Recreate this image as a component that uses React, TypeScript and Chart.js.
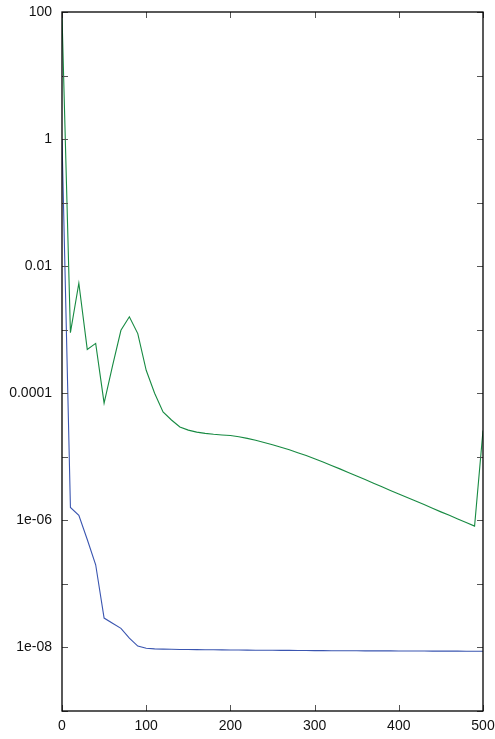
import React, { useEffect, useRef } from "react";
import { Chart, registerables } from "chart.js";

Chart.register(...registerables);

const X_VALUES = [
  0, 10, 20, 30, 40, 50, 60, 70, 80, 90, 100, 110, 120, 130, 140, 150, 160, 170, 180, 190, 200,
  210, 220, 230, 240, 250, 260, 270, 280, 290, 300, 310, 320, 330, 340, 350, 360, 370, 380, 390,
  400, 410, 420, 430, 440, 450, 460, 470, 480, 490, 500,
];

const GREEN_VALUES = [
  90, 9e-4, 5.4e-3, 4.9e-4, 6.1e-4, 7.0e-5, 2.7e-4, 9.8e-4, 1.6e-3, 8.7e-4, 2.3e-4, 1.0e-4,
  5.1e-5, 3.8e-5, 2.95e-5, 2.63e-5, 2.45e-5, 2.34e-5, 2.26e-5, 2.21e-5, 2.16e-5,
  2.065e-5, 1.95e-5, 1.82e-5, 1.68e-5, 1.55e-5, 1.41e-5, 1.29e-5, 1.16e-5, 1.05e-5, 9.33e-6,
  8.32e-6, 7.33e-6, 6.46e-6, 5.68e-6, 4.98e-6, 4.38e-6, 3.85e-6, 3.37e-6, 2.96e-6, 2.61e-6,
  2.29e-6, 2.01e-6, 1.77e-6, 1.55e-6, 1.36e-6, 1.2e-6, 1.05e-6, 9.25e-7, 8.13e-7, 2.6e-5,
];

const BLUE_VALUES = [
  1, 1.6e-6, 1.2e-6, 5.0e-7, 2.0e-7, 2.9e-8, 2.4e-8, 2.0e-8, 1.4e-8, 1.05e-8, 9.7e-9, 9.5e-9,
  9.4e-9, 9.35e-9, 9.3e-9, 9.27e-9, 9.24e-9, 9.21e-9, 9.18e-9, 9.15e-9, 9.12e-9,
  9.1e-9, 9.08e-9, 9.06e-9, 9.04e-9, 9.02e-9, 9.0e-9, 8.98e-9, 8.96e-9, 8.94e-9, 8.92e-9,
  8.9e-9, 8.89e-9, 8.88e-9, 8.87e-9, 8.86e-9, 8.85e-9, 8.84e-9, 8.83e-9, 8.82e-9, 8.81e-9,
  8.8e-9, 8.79e-9, 8.78e-9, 8.77e-9, 8.76e-9, 8.75e-9, 8.74e-9, 8.73e-9, 8.72e-9, 8.7e-9,
];

const X_TICKS = [0, 100, 200, 300, 400, 500];
const X_TICK_LABELS = ["0", "100", "200", "300", "400", "500"];

const Y_TICKS = [100, 10, 1, 0.1, 0.01, 1e-3, 1e-4, 1e-5, 1e-6, 1e-7, 1e-8, 1e-9];
const Y_TICK_LABELS = ["100", "", "1", "", "0.01", "", "0.0001", "", "1e-06", "", "1e-08", ""];

const GREEN_COLOR = "#178a42";
const BLUE_COLOR = "#3a55b0";
const FONT = "'Liberation Sans', Arial, Helvetica, sans-serif";

const framePlugin = {
  id: "gnuplotFrame",
  afterDraw(chart: any) {
    const { ctx, chartArea } = chart;
    const xs = chart.scales.x;
    const ys = chart.scales.y;
    const { left, right, top, bottom } = chartArea;
    ctx.save();
    const tick = 6;
    ctx.strokeStyle = "#555";
    ctx.lineWidth = 1;
    ctx.beginPath();
    X_TICKS.forEach((v) => {
      const px = Math.round(xs.getPixelForValue(v)) + 0.5;
      ctx.moveTo(px, bottom);
      ctx.lineTo(px, bottom - tick);
      ctx.moveTo(px, top);
      ctx.lineTo(px, top + tick);
    });
    Y_TICKS.forEach((v) => {
      const py = Math.round(ys.getPixelForValue(v)) + 0.5;
      ctx.moveTo(left, py);
      ctx.lineTo(left + tick, py);
      ctx.moveTo(right, py);
      ctx.lineTo(right - tick, py);
    });
    ctx.stroke();
    ctx.strokeStyle = "#000";
    ctx.lineWidth = 1.3;
    ctx.strokeRect(left, top, right - left, bottom - top);
    ctx.restore();
  },
};

export default function App() {
  const ref = useRef<HTMLCanvasElement | null>(null);

  useEffect(() => {
    if (!ref.current) return;
    const chart = new Chart(ref.current, {
      type: "line",
      data: {
        datasets: [
          {
            label: "green",
            data: X_VALUES.map((x, i) => ({ x, y: GREEN_VALUES[i] })),
            borderColor: GREEN_COLOR,
            borderWidth: 1.1,
            pointRadius: 0,
            tension: 0,
            fill: false,
          },
          {
            label: "blue",
            data: X_VALUES.map((x, i) => ({ x, y: BLUE_VALUES[i] })),
            borderColor: BLUE_COLOR,
            borderWidth: 1.1,
            pointRadius: 0,
            tension: 0,
            fill: false,
          },
        ],
      },
      options: {
        animation: false,
        responsive: false,
        maintainAspectRatio: false,
        layout: { padding: { left: 0, right: 12, top: 12, bottom: 0 } },
        plugins: {
          legend: { display: false },
          tooltip: { enabled: false },
        },
        scales: {
          x: {
            type: "linear",
            min: 0,
            max: 500,
            grid: { display: false, drawTicks: false },
            border: { display: false },
            afterBuildTicks: (scale: any) => {
              scale.ticks = X_TICKS.map((v) => ({ value: v }));
            },
            afterFit: (scale: any) => {
              scale.height = 28;
              scale.paddingLeft = 0;
              scale.paddingRight = 0;
            },
            ticks: {
              padding: 7,
              maxRotation: 0,
              autoSkip: false,
              color: "#111",
              font: { family: FONT, size: 14 },
              callback: (v: any) => {
                const i = X_TICKS.indexOf(Number(v));
                return i >= 0 ? X_TICK_LABELS[i] : "";
              },
            },
          },
          y: {
            type: "logarithmic",
            min: 1e-9,
            max: 100,
            grid: { display: false, drawTicks: false },
            border: { display: false },
            afterBuildTicks: (scale: any) => {
              scale.ticks = Y_TICKS.map((v) => ({ value: v }));
            },
            afterFit: (scale: any) => {
              scale.width = 62;
              scale.paddingTop = 0;
              scale.paddingBottom = 0;
            },
            ticks: {
              padding: 10,
              autoSkip: false,
              color: "#111",
              font: { family: FONT, size: 14 },
              callback: (v: any) => {
                const n = Number(v);
                const i = Y_TICKS.findIndex((t) => Math.abs(Math.log10(t) - Math.log10(n)) < 1e-6);
                return i >= 0 ? Y_TICK_LABELS[i] : "";
              },
            },
          },
        },
      },
      plugins: [framePlugin],
    });
    return () => chart.destroy();
  }, []);

  return (
    <div style={{ position: "absolute", left: 0, top: 0, width: 495, height: 739, background: "#fff" }}>
      <canvas ref={ref} width={495} height={739} style={{ display: "block" }} />
    </div>
  );
}
